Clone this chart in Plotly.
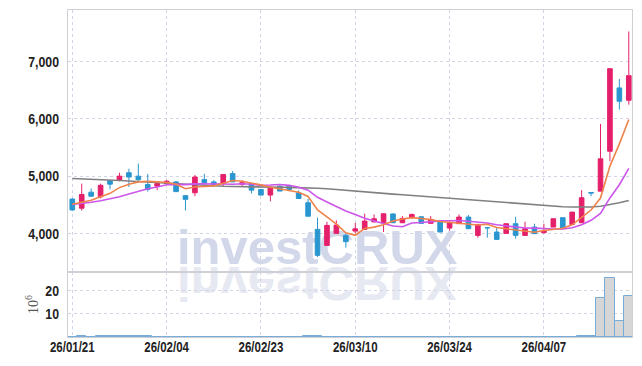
import plotly.graph_objects as go

dates = ["2026-01-21","2026-01-22","2026-01-23","2026-01-26","2026-01-27","2026-01-28","2026-01-29","2026-01-30",
         "2026-02-02","2026-02-03","2026-02-04","2026-02-05","2026-02-06","2026-02-09","2026-02-10","2026-02-11",
         "2026-02-12","2026-02-13","2026-02-19","2026-02-20","2026-02-23","2026-02-24","2026-02-25","2026-02-26",
         "2026-02-27","2026-03-03","2026-03-04","2026-03-05","2026-03-06","2026-03-09","2026-03-10","2026-03-11",
         "2026-03-12","2026-03-13","2026-03-16","2026-03-17","2026-03-18","2026-03-19","2026-03-20","2026-03-23",
         "2026-03-24","2026-03-25","2026-03-26","2026-03-27","2026-03-30","2026-03-31","2026-04-01","2026-04-02",
         "2026-04-03","2026-04-06","2026-04-07","2026-04-08","2026-04-09","2026-04-10","2026-04-13","2026-04-14",
         "2026-04-15","2026-04-16","2026-04-17","2026-04-20"]

open_ = [4600,4440,4720,4640,4925,4930,5060,5000,4855,4826,4873,4900,4660,4710,4940,4900,4873,5045,4860,4873,
         4768,4670,4826,4826,4710,4536,4070,3790,4000,3965,4040,4070,4200,4186,4340,4186,4274,4290,4175,4198,
         4093,4170,4285,3965,4100,4023,4000,4169,3965,4110,4012,4110,4274,4157,4186,4715,4738,5436,6543,6327]
high = [4615,4870,4785,4870,4930,5060,5130,5220,5040,4913,4930,4915,4663,5020,5040,4930,5030,5090,4930,4880,
        4770,4808,4830,4840,4750,4605,4275,4204,4227,4000,4186,4343,4331,4343,4345,4302,4345,4295,4302,4200,
        4215,4331,4320,4157,4105,4099,4169,4291,4204,4169,4169,4256,4274,4372,4756,4720,5914,6880,6700,7530]
low = [4395,4400,4640,4610,4770,4910,4810,4910,4730,4756,4860,4728,4400,4650,4880,4850,4826,4900,4826,4698,
       4669,4560,4738,4740,4610,4300,3590,3790,4000,3750,4000,4070,4198,4023,4186,4186,4260,4175,4175,4023,
       4047,4169,4082,3924,3925,3895,4000,3907,3965,3994,4000,4110,4082,4157,4186,4650,4738,5262,6164,6250]
close = [4410,4680,4650,4840,4860,5000,4985,4940,4770,4873,4913,4730,4595,4985,4885,4855,5030,4900,4884,4756,
         4670,4808,4740,4768,4610,4300,3616,4140,4145,3855,4080,4215,4256,4343,4186,4262,4331,4175,4244,4023,
         4186,4285,4082,4157,4098,3895,4169,3965,4082,3995,4040,4256,4082,4372,4623,4705,5303,6879,6309,6757]

ma5 = [4510,4540,4580,4640,4700,4800,4860,4900,4910,4900,4890,4860,4780,4810,4825,4830,4875,4925,4910,4885,
       4848,4805,4775,4750,4720,4645,4410,4287,4160,4011,3967,4087,4110,4150,4216,4252,4276,4259,4240,4207,
       4192,4183,4164,4147,4160,4103,4080,4057,4042,4021,4050,4068,4091,4149,4275,4408,4617,5176,5564,5990]
ma10 = [4505,4520,4545,4570,4600,4640,4690,4740,4780,4810,4850,4856,4853,4865,4868,4860,4862,4860,4868,4860,
        4840,4845,4855,4840,4806,4755,4630,4550,4475,4390,4330,4265,4215,4170,4130,4115,4181,4190,4210,4218,
        4222,4225,4212,4195,4182,4150,4131,4110,4094,4091,4080,4076,4076,4097,4150,4229,4350,4620,4850,5135]
ma_long = [4960,4955,4950,4945,4935,4925,4915,4905,4895,4885,4875,4865,4855,4845,4838,4830,4825,4820,4815,4812,
           4810,4808,4806,4804,4802,4798,4790,4780,4765,4750,4735,4722,4710,4698,4686,4675,4662,4650,4638,4625,
           4612,4600,4588,4576,4565,4553,4540,4528,4515,4500,4480,4472,4466,4462,4460,4462,4475,4500,4535,4575]

volume = [0,0.6,0,0.25,0.25,0.25,0.25,0.25,0.25,0,0,0,0,0.2,0,0,0.2,0,0,0,
          0,0,0,0,0,0.25,0.25,0,0,0,0,0,0,0,0,0,0,0,0,0,
          0,0,0,0,0,0,0,0,0,0,0,0,0,0,0.25,0.25,16.7,25.4,6.8,17.7]

tick_idx = [0, 10, 20, 30, 40, 50]
tick_labels = ["26/01/21","26/02/04","26/02/23","26/03/10","26/03/24","26/04/07"]
price_ticks = [4000, 5000, 6000, 7000]
vol_ticks = [10, 20]

UP = "#e5206b"
DOWN = "#2a96cf"
GRID = "#d2d5e6"
BORDER = "#cfcfd6"
TICKFONT = dict(family="Liberation Sans, Arial, sans-serif", size=15, color="#222222", weight="bold")
XTICKFONT = dict(family="Liberation Sans, Arial, sans-serif", size=14, color="#222222", weight="bold")

fig = go.Figure()
fig.add_trace(go.Bar(x=dates, y=volume, xaxis="x", yaxis="y",
                     marker=dict(color="#d6d6d6", line=dict(color="#78acd8", width=1)),
                     showlegend=False, hoverinfo="skip"))
fig.add_trace(go.Candlestick(x=dates, open=open_, high=high, low=low, close=close,
                             xaxis="x2", yaxis="y2", showlegend=False,
                             increasing=dict(line=dict(color=UP, width=1), fillcolor=UP),
                             decreasing=dict(line=dict(color=DOWN, width=1), fillcolor=DOWN)))
fig.add_trace(go.Scatter(x=dates, y=ma_long, mode="lines", xaxis="x2", yaxis="y2",
                         line=dict(color="#808080", width=1.6), showlegend=False))
fig.add_trace(go.Scatter(x=dates, y=ma10, mode="lines", xaxis="x2", yaxis="y2",
                         line=dict(color="#cc55ea", width=1.6), showlegend=False))
fig.add_trace(go.Scatter(x=dates, y=ma5, mode="lines", xaxis="x2", yaxis="y2",
                         line=dict(color="#f0834a", width=1.6), showlegend=False))

xr = [-0.455, 59.34]
split = 0.1988
common_x = dict(type="category", range=xr, showgrid=True, griddash="dot", gridcolor=GRID, gridwidth=1,
                tickvals=[dates[i] for i in tick_idx], showline=True, linecolor=BORDER, linewidth=1,
                mirror=True, ticks="", zeroline=False, automargin=False)

fig.update_layout(
    width=642, height=366,
    margin=dict(l=68, r=10, t=10, b=29),
    paper_bgcolor="white", plot_bgcolor="white",
    bargap=0,
    xaxis=dict(common_x, domain=[0, 1], anchor="y", ticktext=tick_labels, tickfont=XTICKFONT,
               ticklabelstandoff=-3),
    xaxis2=dict(common_x, domain=[0, 1], anchor="y2", showticklabels=False,
                rangeslider=dict(visible=False)),
    yaxis=dict(domain=[0, split], range=[0, 28.1], tickvals=vol_ticks, showgrid=True, griddash="dot",
               gridcolor=GRID, showline=True, linecolor=BORDER, mirror=True, ticks="", zeroline=False,
               tickfont=TICKFONT, ticklabelstandoff=5, automargin=False,
               title=dict(text="10<sup>6</sup>", standoff=0,
                          font=dict(family="Liberation Serif, serif", size=14, color="#555555"))),
    yaxis2=dict(domain=[split, 1], range=[3325, 7905], tickvals=price_ticks, tickformat=",d",
                showgrid=True, griddash="dot", gridcolor=GRID, showline=True, linecolor=BORDER,
                mirror=True, ticks="", zeroline=False, tickfont=TICKFONT, ticklabelstandoff=5,
                automargin=False),
    annotations=[
        dict(text="investCRUX", xref="paper", yref="paper", x=0.4424, y=0.2752,
             xanchor="center", yanchor="middle", showarrow=False,
             font=dict(family="Liberation Sans, Arial, sans-serif", size=49, color="#d2d7ea", weight="bold")),
        dict(text="investCRUX", xref="paper", yref="paper", x=0.4424, y=0.1636,
             xanchor="center", yanchor="middle", showarrow=False,
             font=dict(family="Liberation Sans, Arial, sans-serif", size=49, color="#e7e9f2", weight="bold")),
    ],
)

post = """
document.documentElement.style.margin = '0';
document.body.style.margin = '0';
document.body.style.padding = '0';
var gd = document.getElementById('{plot_id}');
var below = gd.querySelector('.main-svg .layer-below');
var anns = gd.querySelectorAll('.infolayer .annotation');
for (var i = 0; i < anns.length; i++) { below.appendChild(anns[i]); }
var moved = below.querySelectorAll('.annotation');
if (moved.length > 1) {
  var t = moved[1].querySelector('text');
  t.style.transformBox = 'fill-box';
  t.style.transformOrigin = 'center';
  t.style.transform = 'scaleY(-1)';
}
var labels = gd.querySelectorAll('.xtick text, .ytick text, .y2tick text');
for (var j = 0; j < labels.length; j++) {
  var w = labels[j].getComputedTextLength();
  if (w > 0) {
    labels[j].setAttribute('textLength', (w * 0.82).toFixed(2));
    labels[j].setAttribute('lengthAdjust', 'spacingAndGlyphs');
  }
}
"""

fig.write_html("out.html", post_script=post, config={"displayModeBar": False})
